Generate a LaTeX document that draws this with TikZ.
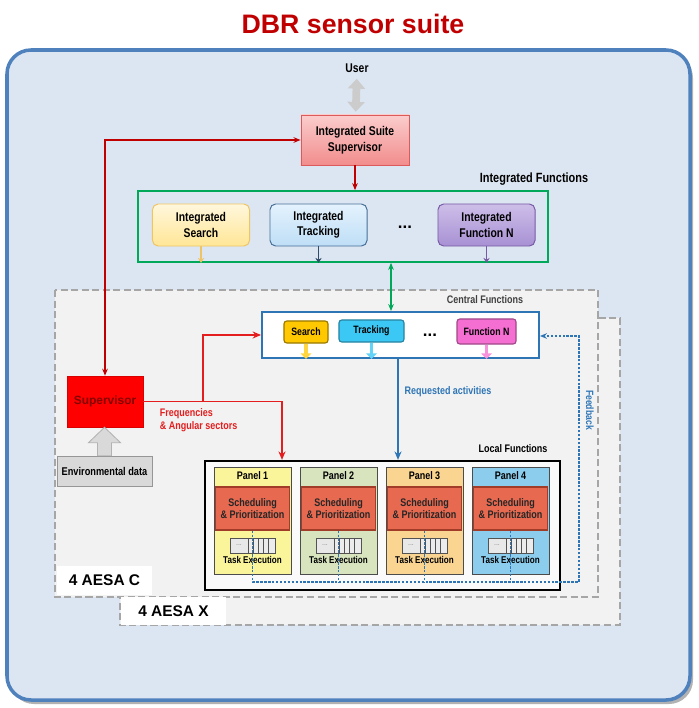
\documentclass[tikz,border=0pt]{standalone}
\usepackage{fontspec}
\setmainfont{Liberation Sans}
\newfontfamily\narrowfont{Liberation Sans}[FakeStretch=0.82]
\usetikzlibrary{arrows.meta, positioning, calc}

\definecolor{frameblue}{RGB}{79,129,189}
\definecolor{bgblue}{RGB}{220,230,242}
\definecolor{titlered}{RGB}{192,0,0}
\definecolor{issborder}{RGB}{220,90,90}
\definecolor{isstop}{RGB}{251,205,205}
\definecolor{issbot}{RGB}{242,140,140}
\definecolor{ifgreen}{RGB}{0,168,89}
\definecolor{searchborder}{RGB}{238,196,100}
\definecolor{searchtop}{RGB}{255,247,220}
\definecolor{searchbot}{RGB}{255,230,150}
\definecolor{trackborder}{RGB}{70,110,150}
\definecolor{tracktop}{RGB}{228,242,253}
\definecolor{trackbot}{RGB}{190,222,246}
\definecolor{funcborder}{RGB}{120,90,165}
\definecolor{functop}{RGB}{205,190,232}
\definecolor{funcbot}{RGB}{168,145,212}
\definecolor{cfblue}{RGB}{46,117,182}
\definecolor{btnyellow}{RGB}{255,200,0}
\definecolor{btncyan}{RGB}{60,200,245}
\definecolor{btnpink}{RGB}{245,110,210}
\definecolor{aesafill}{RGB}{242,242,242}
\definecolor{aesadraw}{RGB}{166,166,166}
\definecolor{supred}{RGB}{255,0,0}
\definecolor{supdark}{RGB}{130,0,0}
\definecolor{supline}{RGB}{228,30,30}
\definecolor{envfill}{RGB}{217,217,217}
\definecolor{envborder}{RGB}{150,150,150}
\definecolor{panelone}{RGB}{250,245,155}
\definecolor{paneltwo}{RGB}{215,228,190}
\definecolor{panelthree}{RGB}{250,213,145}
\definecolor{panelfour}{RGB}{140,205,238}
\definecolor{schedfill}{RGB}{230,105,80}
\definecolor{scheddark}{RGB}{160,60,40}

\begin{document}
\begin{tikzpicture}[
  x=0.025cm, y=-0.025cm,
  font=\narrowfont\bfseries\fontsize{8}{9.5}\selectfont,
  suiteframe/.style={draw=frameblue, fill=bgblue, line width=2.5pt, rounded corners=0.6cm},
  aesa/.style={draw=aesadraw, fill=aesafill, line width=2pt, dash pattern=on 5pt off 2.5pt},
  aesalabel/.style={fill=white, minimum height=0.72cm,
                    font=\normalfont\bfseries\fontsize{11}{13}\selectfont},
  issbox/.style={draw=issborder, top color=isstop, bottom color=issbot, line width=0.6pt,
                 minimum width=2.7cm, minimum height=1.25cm, align=center,
                 font=\narrowfont\bfseries\fontsize{9}{11}\selectfont},
  intbox/.style={rounded corners=4pt, line width=0.7pt, minimum width=2.425cm,
                 minimum height=1.05cm, align=center,
                 font=\narrowfont\bfseries\fontsize{9}{11}\selectfont},
  btn/.style={rounded corners=2pt, line width=0.8pt, inner sep=0pt, minimum height=0.55cm,
              font=\narrowfont\bfseries\fontsize{7.6}{9}\selectfont},
  panelbox/.style={draw=gray!60!black, line width=0.6pt, minimum width=1.925cm, minimum height=2.675cm},
  paneltitle/.style={font=\narrowfont\bfseries\fontsize{7.8}{9}\selectfont},
  schedbox/.style={draw=scheddark, fill=schedfill, line width=0.8pt, minimum width=1.775cm,
                   minimum height=1.075cm, align=center, text=black!85,
                   font=\narrowfont\bfseries\fontsize{7.8}{8.8}\selectfont},
  queue/.style={draw=gray!65!black, fill=gray!18, line width=0.5pt, inner sep=0pt,
                minimum width=1.125cm, minimum height=0.375cm,
                path picture={
                  \coordinate (qsw) at (path picture bounding box.south west);
                  \fill[white!85!gray] ([xshift=0.45cm]qsw) rectangle ++(27,-15);
                  \foreach \k in {18,23,28,33,38} \draw[gray!65!black] ([xshift=\k*0.025cm]qsw) -- ++(0,-15);
                  \node[text=gray, font=\fontsize{5}{5}\selectfont] at ([shift={(9,-8)}]qsw) {...};
                }},
  smalltext/.style={font=\narrowfont\bfseries\fontsize{7}{8}\selectfont},
  redlink/.style={draw=titlered, line width=1pt},
  suplink/.style={draw=supline, line width=1.2pt, -{Stealth[length=6pt,width=5pt]}},
  greenlink/.style={draw=ifgreen, line width=1pt, {Stealth[length=5pt,width=4pt]}-{Stealth[length=5pt,width=4pt]}},
  bluelink/.style={draw=cfblue, line width=1.3pt, -{Stealth[length=6pt,width=5pt]}},
  feedback/.style={draw=cfblue, line width=0.9pt, dash pattern=on 1.8pt off 1pt, -{Stealth[length=5pt,width=4pt]}},
  fatarrow/.style={line width=2.6pt, -{Triangle[length=4pt,width=7.5pt]}},
  tinyarrow/.style={line width=1.3pt, -{Stealth[length=3.5pt,width=4.5pt]}}
]
\useasboundingbox (0,0) rectangle (698,708);

% cornice della suite
\fill[black!30, rounded corners=0.6cm] (10,54) rectangle (693,704);
\draw[suiteframe] (7,50) rectangle (690,700);
\node[font=\normalfont\bfseries\fontsize{19}{22}\selectfont, text=titlered] (title) at (353,24) {DBR sensor suite};

% aree AESA
\draw[aesa] (120,318) rectangle (620,625);
\draw[aesa] (55,290) rectangle (598,597);
\node[aesalabel, minimum width=2.375cm] (aesaC) at (104.5,580.5) {4 AESA C};
\node[aesalabel, minimum width=2.6cm] (aesaX) at (173.5,611) {4 AESA X};

% livello integrato
\node[font=\narrowfont\bfseries\fontsize{9}{11}\selectfont] (user) at (357,68) {User};
\node[issbox] (ISS) at (355,140) {Integrated Suite\\Supervisor};
\draw[gray!40, line width=5.5pt, {Triangle[length=7pt,width=12pt]}-{Triangle[length=7pt,width=12pt]},
      shorten <=1pt, shorten >=2pt] (user) -- (ISS);

\node[draw=ifgreen, line width=1.2pt, minimum width=10.25cm, minimum height=1.775cm] (IF) at (343,226.5) {};
\node[font=\narrowfont\bfseries\fontsize{9.5}{11}\selectfont] (IFlab) at (534,179) {Integrated Functions};
\node[intbox, draw=searchborder, top color=searchtop, bottom color=searchbot] (IS) at (201,225) {Integrated\\Search};
\node[intbox, draw=trackborder, top color=tracktop, bottom color=trackbot] (IT) at (318.5,225) {Integrated\\Tracking};
\node[intbox, draw=funcborder, top color=functop, bottom color=funcbot] (IN) at (486.5,225) {Integrated\\Function N};
\node[font=\bfseries\fontsize{12}{12}\selectfont] (dotsI) at (405,227) {...};
\draw[tinyarrow, draw=searchborder] (IS.south) -- (IS.south |- IF.south);
\draw[tinyarrow, draw=trackborder!70!black] (IT.south) -- (IT.south |- IF.south);
\draw[tinyarrow, draw=funcborder] (IN.south) -- (IN.south |- IF.south);
\draw[redlink, -{Stealth[length=5pt,width=4pt]}] (ISS.south) -- (ISS.south |- IF.north);

% funzioni centrali
\node[draw=cfblue, fill=white, line width=1.3pt, minimum width=6.925cm, minimum height=1.15cm] (CF) at (400.5,335) {};
\node[font=\narrowfont\bfseries\fontsize{7.8}{9}\selectfont, text=black!75] (CFlab) at (485,300) {Central Functions};
\node[btn, draw=btnyellow!60!black, fill=btnyellow, minimum width=1.1cm] (bS) at (306,332) {Search};
\node[btn, draw=btncyan!65!black, fill=btncyan, minimum width=1.625cm] (bT) at (371.5,331) {Tracking};
\node[btn, draw=btnpink!65!black, fill=btnpink, minimum width=1.475cm, minimum height=0.625cm] (bN) at (486.5,331.5) {Function N};
\node[font=\bfseries\fontsize{12}{12}\selectfont] (dotsC) at (430,335) {...};
\draw[fatarrow, draw=btnyellow!75!white] (bS.south) -- (bS.south |- CF.south);
\draw[fatarrow, draw=btncyan!80!white] (bT.south) -- (bT.south |- CF.south);
\draw[fatarrow, draw=btnpink!75!white] (bN.south) -- (bN.south |- CF.south);

\coordinate (gx) at (391,0);
\draw[greenlink] (IF.south -| gx) -- (CF.north -| gx);

% supervisore
\node[draw=red!85!black, fill=supred, minimum width=1.9cm, minimum height=1.275cm, text=supdark,
      font=\normalfont\bfseries\fontsize{8.5}{10}\selectfont] (SUP) at (105,401.5) {Supervisor};
\node[draw=envborder, fill=envfill, minimum width=2.375cm, minimum height=0.75cm] (ENV) at (104.5,471) {Environmental data};
\draw[draw=gray!60, fill=gray!30, line width=0.6pt]
  ($(ENV.north)+(-7,0)$) -- ++(0,-13) -- ++(-9,0) -- (SUP.south -| ENV.north)
  -- ($(ENV.north)+(16,-13)$) -- ++(-9,0) -- ++(0,13) -- cycle;
\draw[redlink, {Stealth[length=5pt,width=4pt]}-{Stealth[length=5pt,width=4pt]}] (ISS.west) -| (SUP.north);

% funzioni locali
\node[draw=black, line width=1.6pt, fill=gray!4, minimum width=8.875cm, minimum height=3.225cm] (LF) at (382.5,525.5) {};
\node[font=\narrowfont\bfseries\fontsize{7.8}{9}\selectfont] (LFlab) at (513,449) {Local Functions};

\node[panelbox, fill=panelone] (P1) at (252.5,520.5) {};
\node[paneltitle] (P1t) at (252.5,476) {Panel 1};
\node[schedbox] (S1) at (252.5,508.5) {Scheduling\\\& Prioritization};
\node[queue] (Q1) at (252.5,545.5) {};
\node[smalltext] (T1) at (252.5,560) {Task Execution};

\node[panelbox, fill=paneltwo] (P2) at (338.5,520.5) {};
\node[paneltitle] (P2t) at (338.5,476) {Panel 2};
\node[schedbox] (S2) at (338.5,508.5) {Scheduling\\\& Prioritization};
\node[queue] (Q2) at (338.5,545.5) {};
\node[smalltext] (T2) at (338.5,560) {Task Execution};

\node[panelbox, fill=panelthree] (P3) at (424.5,520.5) {};
\node[paneltitle] (P3t) at (424.5,476) {Panel 3};
\node[schedbox] (S3) at (424.5,508.5) {Scheduling\\\& Prioritization};
\node[queue] (Q3) at (424.5,545.5) {};
\node[smalltext] (T3) at (424.5,560) {Task Execution};

\node[panelbox, fill=panelfour] (P4) at (510.5,520.5) {};
\node[paneltitle] (P4t) at (510.5,476) {Panel 4};
\node[schedbox] (S4) at (510.5,508.5) {Scheduling\\\& Prioritization};
\node[queue] (Q4) at (510.5,545.5) {};
\node[smalltext] (T4) at (510.5,560) {Task Execution};

% collegamenti del supervisore
\coordinate (fork) at (203,0);
\coordinate (drop) at (282,0);
\draw[suplink] (SUP.east) -- (SUP.east -| drop) -- (drop |- LF.north);
\draw[suplink] (SUP.east -| fork) -- (fork |- CF.west) -- (CF.west);
\node[anchor=west, align=left, text=supline, font=\narrowfont\bfseries\fontsize{7.8}{8.8}\selectfont] (freq)
  at (155,420) {Frequencies\\\& Angular sectors};

% attivita richieste
\coordinate (bx) at (398,0);
\draw[bluelink] (CF.south -| bx) -- (LF.north -| bx);
\node[text=cfblue, font=\narrowfont\bfseries\fontsize{7.8}{9}\selectfont] (req) at (448,392) {Requested activities};

% retroazione
\coordinate (fbl) at (252.5,582);
\coordinate (fbr) at (579,582);
\coordinate (fbt) at (579,336);
\draw[feedback] (S1.south) -- (S1.south |- fbl) -- (fbr) -- (fbt) -- (fbt -| CF.east);
\draw[feedback, -] (S2.south) -- (S2.south |- fbl);
\draw[feedback, -] (S3.south) -- (S3.south |- fbl);
\draw[feedback, -] (S4.south) -- (S4.south |- fbl);
\node[rotate=-90, text=cfblue, font=\narrowfont\bfseries\fontsize{7.5}{9}\selectfont] (fbtext) at (590,410) {Feedback};

\end{tikzpicture}
\end{document}
